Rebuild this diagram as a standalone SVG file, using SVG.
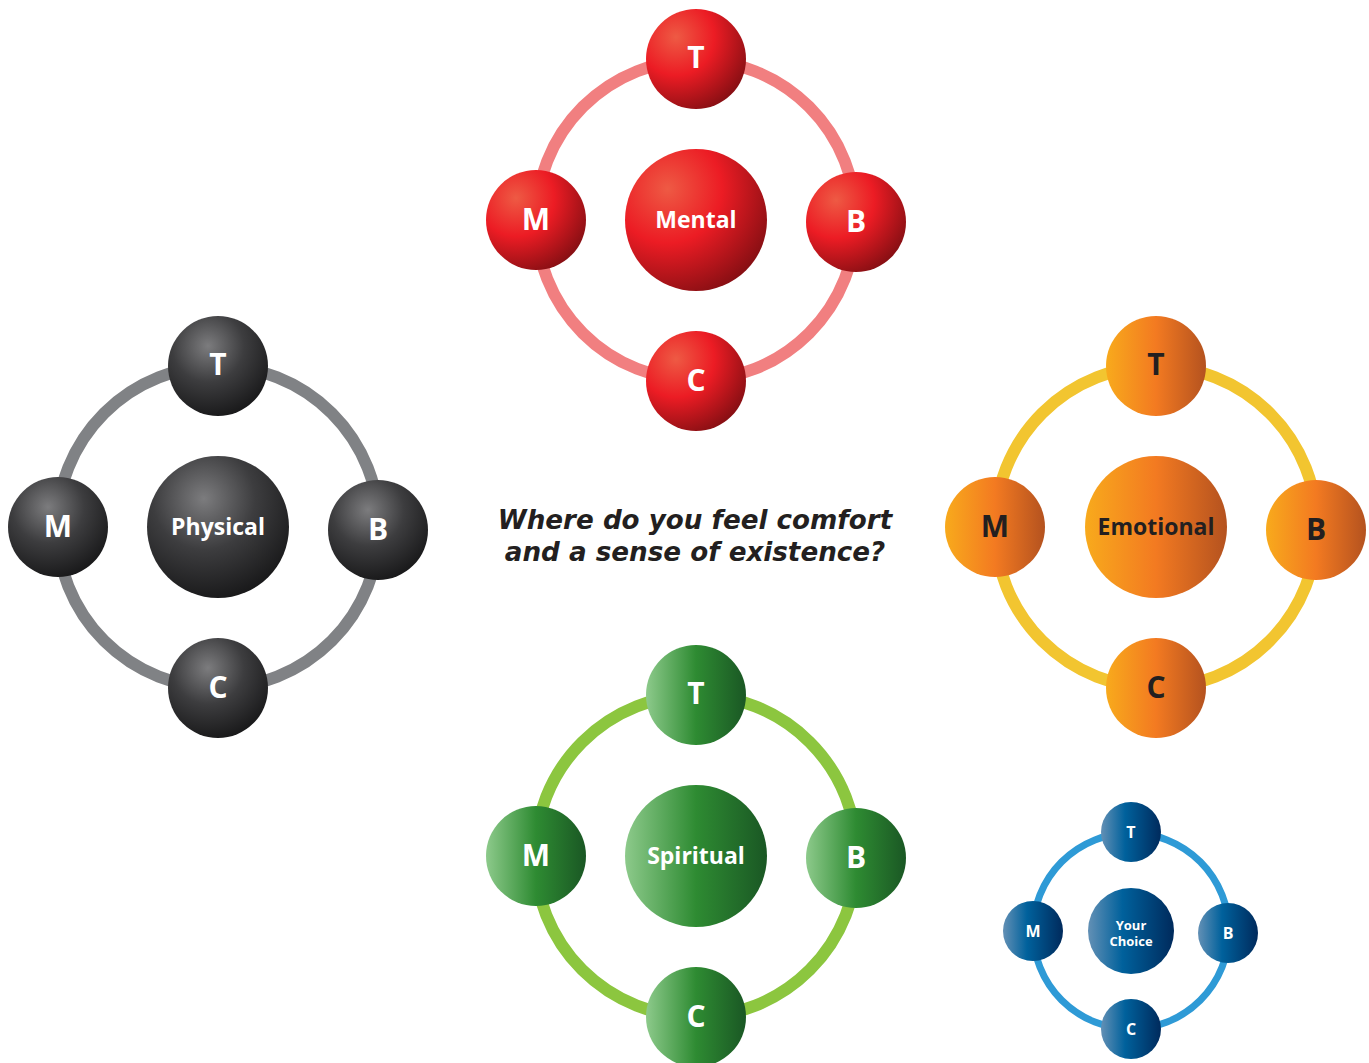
<svg xmlns="http://www.w3.org/2000/svg" width="1369" height="1063" viewBox="0 0 1369 1063">
<defs>
<radialGradient id="gRed" cx="0.3" cy="0.28" r="0.85" fx="0.3" fy="0.28">
<stop offset="0" stop-color="#ee5a44"/>
<stop offset="0.45" stop-color="#ec1c24"/>
<stop offset="1" stop-color="#7a0d11"/>
</radialGradient>
<radialGradient id="gGray" cx="0.4" cy="0.3" r="0.8" fx="0.4" fy="0.3">
<stop offset="0" stop-color="#7c7c7e"/>
<stop offset="0.45" stop-color="#3d3d3f"/>
<stop offset="1" stop-color="#111112"/>
</radialGradient>
<linearGradient id="gOrange" x1="0" y1="0" x2="1" y2="0">
<stop offset="0" stop-color="#f8aa1c"/>
<stop offset="0.5" stop-color="#f37a21"/>
<stop offset="1" stop-color="#b4521f"/>
</linearGradient>
<linearGradient id="gGreen" x1="0" y1="0" x2="1" y2="0">
<stop offset="0" stop-color="#8dca8b"/>
<stop offset="0.5" stop-color="#2e8b32"/>
<stop offset="1" stop-color="#1a5724"/>
</linearGradient>
<linearGradient id="gBlue" x1="0" y1="0" x2="1" y2="0">
<stop offset="0" stop-color="#6390b5"/>
<stop offset="0.4" stop-color="#00619c"/>
<stop offset="1" stop-color="#002a5c"/>
</linearGradient>
</defs>
<style>
.ring{fill:none;stroke-width:12}
.lbl{font-family:"Open Sans","Liberation Sans",sans-serif;font-weight:bold;text-anchor:middle;fill:#ffffff}
.dark{fill:#231f20}
.s{font-size:30px}
.c{font-size:23px}
.q{font-family:"DejaVu Sans","Liberation Sans",sans-serif;font-weight:bold;font-style:italic;font-size:26.2px;fill:#231f20;text-anchor:middle}
</style>
<rect width="1369" height="1063" fill="#ffffff"/>
<g id="connectors">
<circle class="ring" cx="696" cy="220" r="160" stroke="#f17f80"/>
<circle class="ring" cx="218" cy="527" r="161" stroke="#808285"/>
<circle class="ring" cx="1156" cy="527" r="161" stroke="#f2c530"/>
<circle class="ring" cx="696" cy="856" r="161" stroke="#8cc63f"/>
<circle class="ring" cx="1131" cy="931" r="98" stroke="#2e9ad6" style="stroke-width:7"/>
</g>
<!-- Mental -->
<g id="mental-center"><circle cx="696" cy="220" r="71" fill="url(#gRed)"/><text class="lbl c" x="696" y="228">Mental</text></g>
<g id="mental-T"><circle cx="696" cy="59" r="50" fill="url(#gRed)"/><text class="lbl s" x="696" y="68">T</text></g>
<g id="mental-M"><circle cx="536" cy="220" r="50" fill="url(#gRed)"/><text class="lbl s" x="536" y="230">M</text></g>
<g id="mental-B"><circle cx="856" cy="222" r="50" fill="url(#gRed)"/><text class="lbl s" x="856" y="232">B</text></g>
<g id="mental-C"><circle cx="696" cy="381" r="50" fill="url(#gRed)"/><text class="lbl s" x="696" y="391">C</text></g>
<!-- Physical -->
<g id="physical-center"><circle cx="218" cy="527" r="71" fill="url(#gGray)"/><text class="lbl c" x="218" y="535">Physical</text></g>
<g id="physical-T"><circle cx="218" cy="366" r="50" fill="url(#gGray)"/><text class="lbl s" x="218" y="375">T</text></g>
<g id="physical-M"><circle cx="58" cy="527" r="50" fill="url(#gGray)"/><text class="lbl s" x="58" y="537">M</text></g>
<g id="physical-B"><circle cx="378" cy="530" r="50" fill="url(#gGray)"/><text class="lbl s" x="378" y="540">B</text></g>
<g id="physical-C"><circle cx="218" cy="688" r="50" fill="url(#gGray)"/><text class="lbl s" x="218" y="698">C</text></g>
<!-- Emotional -->
<g id="emotional-center"><circle cx="1156" cy="527" r="71" fill="url(#gOrange)"/><text class="lbl c dark" x="1156" y="535">Emotional</text></g>
<g id="emotional-T"><circle cx="1156" cy="366" r="50" fill="url(#gOrange)"/><text class="lbl s dark" x="1156" y="375">T</text></g>
<g id="emotional-M"><circle cx="995" cy="527" r="50" fill="url(#gOrange)"/><text class="lbl s dark" x="995" y="537">M</text></g>
<g id="emotional-B"><circle cx="1316" cy="530" r="50" fill="url(#gOrange)"/><text class="lbl s dark" x="1316" y="540">B</text></g>
<g id="emotional-C"><circle cx="1156" cy="688" r="50" fill="url(#gOrange)"/><text class="lbl s dark" x="1156" y="698">C</text></g>
<!-- Spiritual -->
<g id="spiritual-center"><circle cx="696" cy="856" r="71" fill="url(#gGreen)"/><text class="lbl c" x="696" y="864">Spiritual</text></g>
<g id="spiritual-T"><circle cx="696" cy="695" r="50" fill="url(#gGreen)"/><text class="lbl s" x="696" y="704">T</text></g>
<g id="spiritual-M"><circle cx="536" cy="856" r="50" fill="url(#gGreen)"/><text class="lbl s" x="536" y="866">M</text></g>
<g id="spiritual-B"><circle cx="856" cy="858" r="50" fill="url(#gGreen)"/><text class="lbl s" x="856" y="868">B</text></g>
<g id="spiritual-C"><circle cx="696" cy="1017" r="50" fill="url(#gGreen)"/><text class="lbl s" x="696" y="1027">C</text></g>
<!-- Your Choice -->
<g id="choice-center"><circle cx="1131" cy="931" r="43" fill="url(#gBlue)"/><text class="lbl" x="1131" y="930" font-size="13">Your</text><text class="lbl" x="1131" y="946" font-size="13">Choice</text></g>
<g id="choice-T"><circle cx="1131" cy="832" r="30" fill="url(#gBlue)"/><text class="lbl" x="1131" y="838" font-size="16">T</text></g>
<g id="choice-M"><circle cx="1033" cy="931" r="30" fill="url(#gBlue)"/><text class="lbl" x="1033" y="937" font-size="16">M</text></g>
<g id="choice-B"><circle cx="1228" cy="933" r="30" fill="url(#gBlue)"/><text class="lbl" x="1228" y="939" font-size="16">B</text></g>
<g id="choice-C"><circle cx="1131" cy="1029" r="30" fill="url(#gBlue)"/><text class="lbl" x="1131" y="1035" font-size="16">C</text></g>
<g id="question">
<text class="q" x="695" y="529">Where do you feel comfort</text>
<text class="q" x="695" y="561">and a sense of existence?</text>
</g>
</svg>
